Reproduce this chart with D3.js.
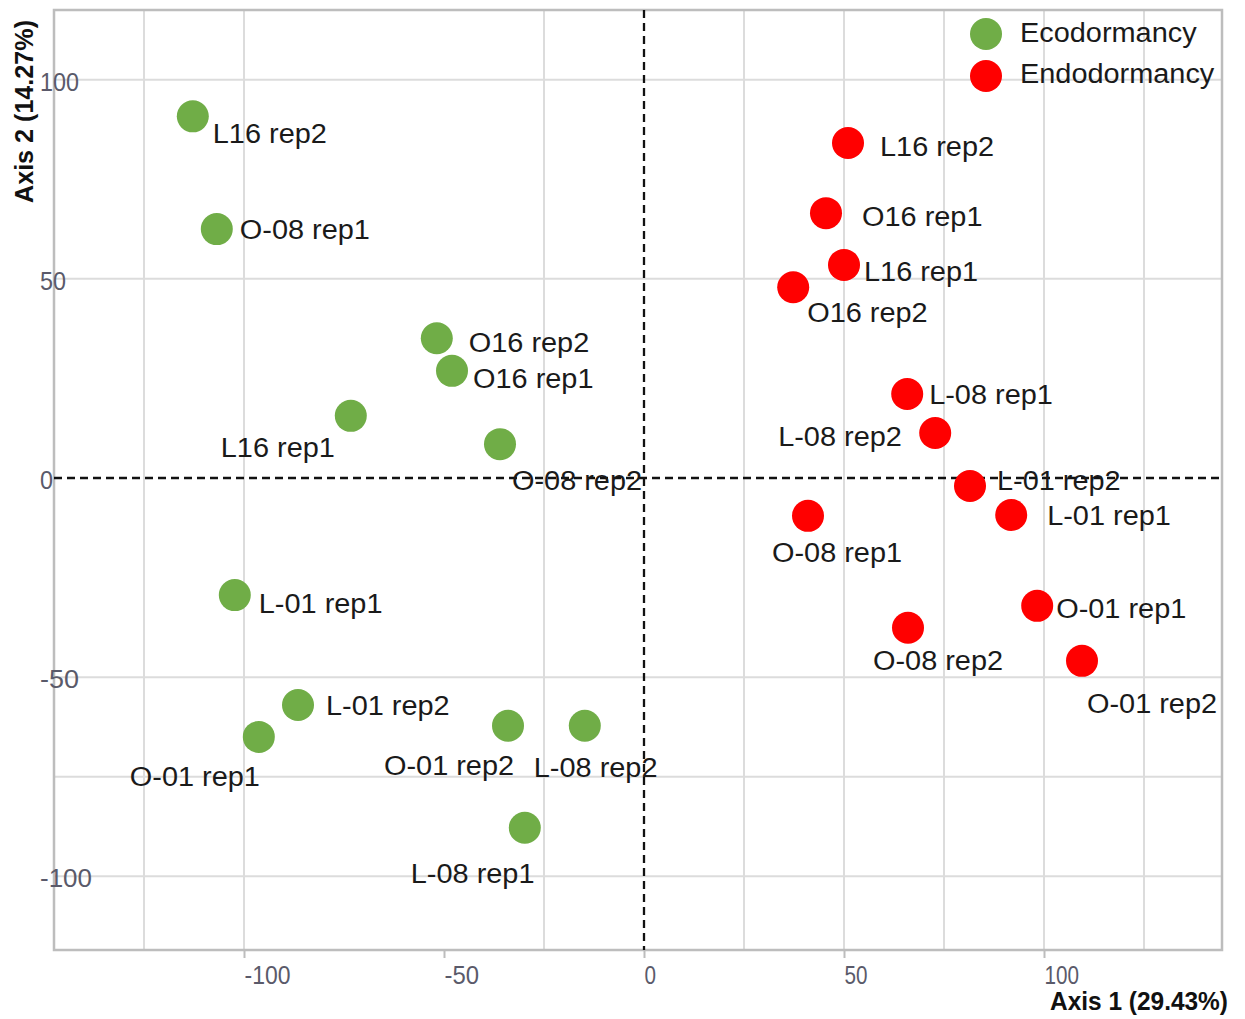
<!DOCTYPE html>
<html>
<head>
<meta charset="utf-8">
<title>PCA scatter</title>
<script src="https://d3js.org/d3.v7.min.js"></script>
<style>
  body { margin: 0; background: #fff; }
  text { font-family: "Liberation Sans", Arial, sans-serif; }
</style>
</head>
<body>
<div id="chart"></div>
<script>

// groups
var groups = ["Ecodormancy", "Endodormancy"];
var groupColors = ["#70ad47", "#ff0000"];

// samples of each group
var ecoLabels = ["L16 rep2", "O-08 rep1", "O16 rep2", "O16 rep1", "L16 rep1", "O-08 rep2",
                 "L-01 rep1", "L-01 rep2", "O-01 rep1", "O-01 rep2", "L-08 rep2", "L-08 rep1"];
var ecoX = [-112.8, -106.8, -51.8, -48.0, -73.3, -36.0, -102.3, -86.5, -96.3, -34.0, -14.8, -29.8];
var ecoY = [90.8, 62.5, 35.1, 26.9, 15.6, 8.5, -29.4, -57.0, -65.0, -62.2, -62.2, -87.8];

var endoLabels = ["L16 rep2", "O16 rep1", "L16 rep1", "O16 rep2", "L-08 rep1", "L-08 rep2",
                  "L-01 rep2", "L-01 rep1", "O-08 rep1", "O-01 rep1", "O-08 rep2", "O-01 rep2"];
var endoX = [51.0, 45.5, 50.0, 37.3, 65.8, 72.8, 81.5, 91.8, 41.0, 98.3, 66.0, 109.5];
var endoY = [84.1, 66.5, 53.5, 47.9, 21.1, 11.3, -2.0, -9.3, -9.5, -32.1, -37.6, -45.9];

// label placement (repelled labels), pixel offsets from the point
var ecoNudge = [[20,17],[23,0],[32,4],[21,7],[-130,31],[12,36],[24,8],[28,0],[-129,39],[-124,40],[-51,42],[-114,46]];
var endoNudge = [[32,3],[36,3],[20,6],[14,25],[22,0],[-157,3],[27,-6],[36,0],[-36,36],[19,2],[-35,33],[5,42]];

var xTicks = [-100, -50, 0, 50, 100];
var yTicks = [100, 50, 0, -50, -100];
var xGrid = [-125, -100, -25, 25, 50, 75, 100, 125];
var yGrid = [100, 50, -50, -75, -100];

var xTitle = "Axis 1 (29.43%)";
var yTitle = "Axis 2 (14.27%)";

var W = 1245, H = 1019;
var pLeft = 54, pRight = 1222, pTop = 10, pBottom = 950;

var x = d3.scaleLinear().domain([-147.5, 144.5]).range([pLeft, pRight]);
var y = d3.scaleLinear().domain([-118.5, 117.5]).range([pBottom, pTop]);

var svg = d3.select("#chart").append("svg")
  .attr("width", W)
  .attr("height", H);

// the source picture is a bit stretched sideways
function stretch(sel, k) {
  sel.each(function() {
    var w = this.getComputedTextLength();
    d3.select(this).attr("textLength", w * k).attr("lengthAdjust", "spacingAndGlyphs");
  });
}

// grid
svg.append("g").selectAll("line").data(xGrid).enter().append("line")
  .attr("x1", function(d) { return x(d); })
  .attr("x2", function(d) { return x(d); })
  .attr("y1", pTop).attr("y2", pBottom)
  .attr("stroke", "#dcdcdc").attr("stroke-width", 2);

svg.append("g").selectAll("line").data(yGrid).enter().append("line")
  .attr("y1", function(d) { return y(d); })
  .attr("y2", function(d) { return y(d); })
  .attr("x1", pLeft).attr("x2", pRight)
  .attr("stroke", "#dcdcdc").attr("stroke-width", 2);

// frame
svg.append("rect")
  .attr("x", pLeft).attr("y", pTop)
  .attr("width", pRight - pLeft).attr("height", pBottom - pTop)
  .attr("fill", "none").attr("stroke", "#bdbdbd").attr("stroke-width", 2.5);

// zero lines
svg.append("line")
  .attr("x1", x(0)).attr("x2", x(0)).attr("y1", pTop).attr("y2", pBottom)
  .attr("stroke", "#111").attr("stroke-width", 2.3).attr("stroke-dasharray", "8,5");
svg.append("line")
  .attr("x1", pLeft).attr("x2", pRight).attr("y1", y(0)).attr("y2", y(0))
  .attr("stroke", "#111").attr("stroke-width", 2.3).attr("stroke-dasharray", "8,5");

function plain(d) { return String(d); }

// x axis: ticks under the frame, labels start at the tick
var gx = svg.append("g")
  .attr("transform", "translate(0," + pBottom + ")")
  .call(d3.axisBottom(x).tickValues(xTicks).tickSize(8).tickFormat(plain));
gx.select(".domain").remove();
gx.selectAll(".tick line").attr("stroke", "#bdbdbd").attr("stroke-width", 2);
gx.selectAll(".tick text")
  .attr("text-anchor", "start")
  .attr("x", 0)
  .attr("y", 16)
  .attr("dy", "0.71em")
  .attr("fill", "#5a5a6a")
  .style("font-size", "25px")
  .each(function() {
    var t = d3.select(this);
    t.attr("textLength", t.text().length * 11.5).attr("lengthAdjust", "spacingAndGlyphs");
  });

// y axis: labels left aligned over the frame
var gy = svg.append("g")
  .attr("transform", "translate(" + pLeft + ",0)")
  .call(d3.axisLeft(y).tickValues(yTicks).tickSize(0).tickFormat(plain));
gy.select(".domain").remove();
gy.selectAll(".tick text")
  .attr("text-anchor", "start")
  .attr("x", -14)
  .attr("dy", "0.42em")
  .attr("fill", "#5a5a6a")
  .style("font-size", "25px")
  .each(function() {
    var t = d3.select(this);
    t.attr("textLength", t.text().length * 13).attr("lengthAdjust", "spacingAndGlyphs");
  });

// axis titles
svg.append("text")
  .attr("x", 1228).attr("y", 1010)
  .attr("text-anchor", "end")
  .attr("font-weight", "bold")
  .style("font-size", "26px")
  .attr("fill", "#111")
  .attr("textLength", 178).attr("lengthAdjust", "spacingAndGlyphs")
  .text(xTitle);

svg.append("text")
  .attr("transform", "translate(33,20) rotate(-90)")
  .attr("text-anchor", "end")
  .attr("font-weight", "bold")
  .style("font-size", "26px")
  .attr("fill", "#111")
  .attr("textLength", 183).attr("lengthAdjust", "spacingAndGlyphs")
  .text(yTitle);

// points + labels
function drawGroup(labels, xs, ys, nudge, color) {
  var rows = labels.map(function(l, i) {
    return { label: l, x: xs[i], y: ys[i], dx: nudge[i][0], dy: nudge[i][1] };
  });
  var g = svg.append("g");
  g.selectAll("circle").data(rows).enter().append("circle")
    .attr("cx", function(d) { return x(d.x); })
    .attr("cy", function(d) { return y(d.y); })
    .attr("r", 16)
    .attr("fill", color);
  var t = g.selectAll("text").data(rows).enter().append("text")
    .attr("x", function(d) { return x(d.x) + d.dx; })
    .attr("y", function(d) { return y(d.y) + d.dy; })
    .attr("dy", "0.36em")
    .style("font-size", "27px")
    .attr("fill", "#1a1a1a")
    .text(function(d) { return d.label; });
  stretch(t, 1.07);
}

drawGroup(ecoLabels, ecoX, ecoY, ecoNudge, groupColors[0]);
drawGroup(endoLabels, endoX, endoY, endoNudge, groupColors[1]);

// legend
var legend = svg.append("g");
groups.forEach(function(gName, i) {
  legend.append("circle")
    .attr("cx", 986).attr("cy", 34 + i * 42)
    .attr("r", 16)
    .attr("fill", groupColors[i]);
  var t = legend.append("text")
    .attr("x", 1020).attr("y", 32 + i * 41)
    .attr("dy", "0.36em")
    .style("font-size", "27px")
    .attr("fill", "#1a1a1a")
    .text(gName);
  stretch(t, 1.07);
});

</script>
</body>
</html>
